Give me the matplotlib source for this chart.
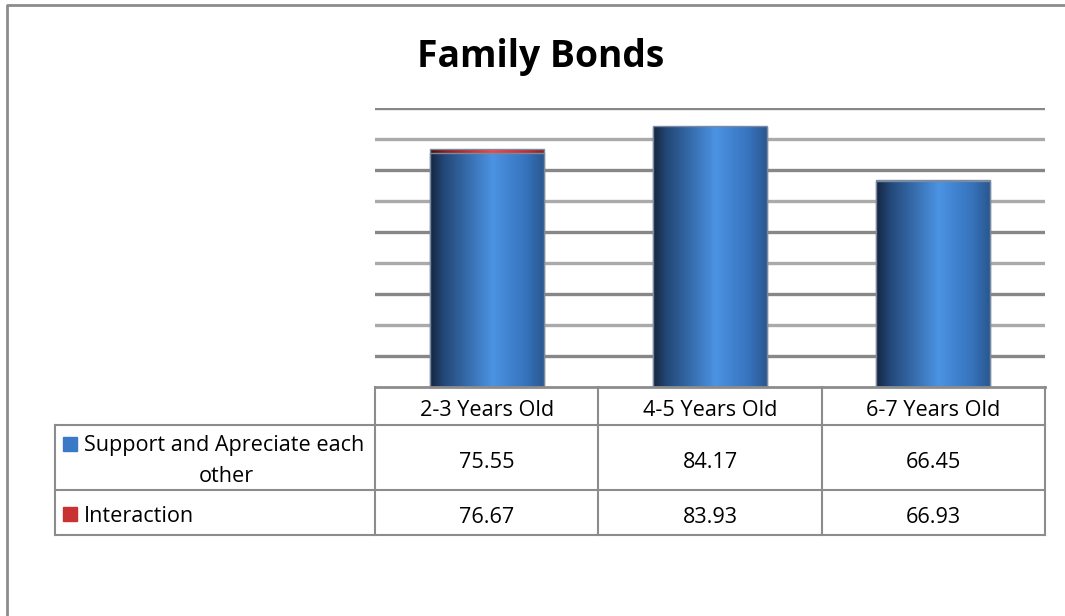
import numpy as np
import matplotlib.pyplot as plt
from matplotlib.colors import LinearSegmentedColormap

# data
categories = ['2-3 Years Old', '4-5 Years Old', '6-7 Years Old']
support = [75.55, 84.17, 66.45]
interaction = [76.67, 83.93, 66.93]
series_names = ['Support and Apreciate each', 'Interaction']

plt.rcParams['font.family'] = ['Open Sans', 'DejaVu Sans']

W, H = 1065, 616
fig = plt.figure(figsize=(W / 100, H / 100), dpi=100)

# pixel layout
px_left, px_right, px_bottom, px_top = 375, 1045, 387, 108
ax = fig.add_axes([px_left / W, 1 - px_bottom / H, (px_right - px_left) / W, (px_bottom - px_top) / H])
ax.axis('off')

# gridlines, alternating dark / light
for i, g in enumerate(range(90, 0, -10)):
    ax.axhline(g, color='#878787' if i % 2 == 0 else '#aaaaaa', lw=2.4, zorder=1)

blue_cmap = LinearSegmentedColormap.from_list('blue', [
    (0.0, '#15263f'), (0.12, '#234777'), (0.55, '#4b93e3'), (0.85, '#3672bb'), (1.0, '#2a5890')])
red_cmap = LinearSegmentedColormap.from_list('red', [
    (0.0, '#4a0c0c'), (0.12, '#8a1e1e'), (0.55, '#f04848'), (0.85, '#c03030'), (1.0, '#902222')])

grad = np.linspace(0, 1, 256).reshape(1, -1)
x = np.arange(len(categories))
bw = 0.51


def gradient_bars(vals, cmap, z):
    bars = ax.bar(x, vals, width=bw, color='none', edgecolor='#7a8aa0', lw=1.0, zorder=z + 1)
    for b in bars:
        im = ax.imshow(grad, cmap=cmap, aspect='auto', zorder=z,
                       extent=(b.get_x(), b.get_x() + b.get_width(), 0, b.get_height()))
        im.set_clip_path(b)


gradient_bars(interaction, red_cmap, 2)
gradient_bars(support, blue_cmap, 4)
ax.set_xlim(-0.5, 2.5)
ax.set_ylim(0, 90)

fig.text(541 / W, 1 - 57 / H, 'Family Bonds', ha='center', va='center',
         fontsize=26.8, fontweight='bold')

# overlay in pixel coordinates for frame and data table
ov = fig.add_axes([0, 0, 1, 1])
ov.set_xlim(0, W)
ov.set_ylim(H, 0)
ov.axis('off')
ov.patch.set_alpha(0)

ov.plot([7, 7, W], [H, 5, 5], color='#8c8c8c', lw=2)

lc = '#8c8c8c'
col_w = (px_right - px_left) / len(categories)
col_x = [px_left + i * col_w for i in range(len(categories) + 1)]
row_y = [387, 425, 490, 535]
label_left = 55

ov.plot([px_left, px_right], [row_y[0], row_y[0]], color=lc, lw=2)
for cx in col_x:
    ov.plot([cx, cx], [row_y[0], row_y[-1]], color=lc, lw=1.5)
ov.plot([label_left, label_left], [row_y[1], row_y[-1]], color=lc, lw=1.5)
for ry in row_y[1:]:
    ov.plot([label_left, px_right], [ry, ry], color=lc, lw=1.5)

fs = 15.6
dy = 5
for i, c in enumerate(categories):
    ov.text((col_x[i] + col_x[i + 1]) / 2, (row_y[0] + row_y[1]) / 2 + dy, c,
            ha='center', va='center', fontsize=fs)

rows = [support, interaction]
for r, vals in enumerate(rows):
    yc = (row_y[r + 1] + row_y[r + 2]) / 2
    for i, v in enumerate(vals):
        ov.text((col_x[i] + col_x[i + 1]) / 2, yc + dy, f'{v:.2f}', ha='center', va='center', fontsize=fs)

# row labels with legend keys
keys = ['#3a78c8', '#c83232']
ov.add_patch(plt.Rectangle((63, 437), 14, 14, color=keys[0]))
ov.text(84, 443 + 3, series_names[0], ha='left', va='center', fontsize=fs)
ov.text(226, 473 + 3, 'other', ha='center', va='center', fontsize=fs)
ov.add_patch(plt.Rectangle((63, 507), 14, 14, color=keys[1]))
ov.text(84, 513 + 3, series_names[1], ha='left', va='center', fontsize=fs)

fig.savefig('out.png', dpi=100)
